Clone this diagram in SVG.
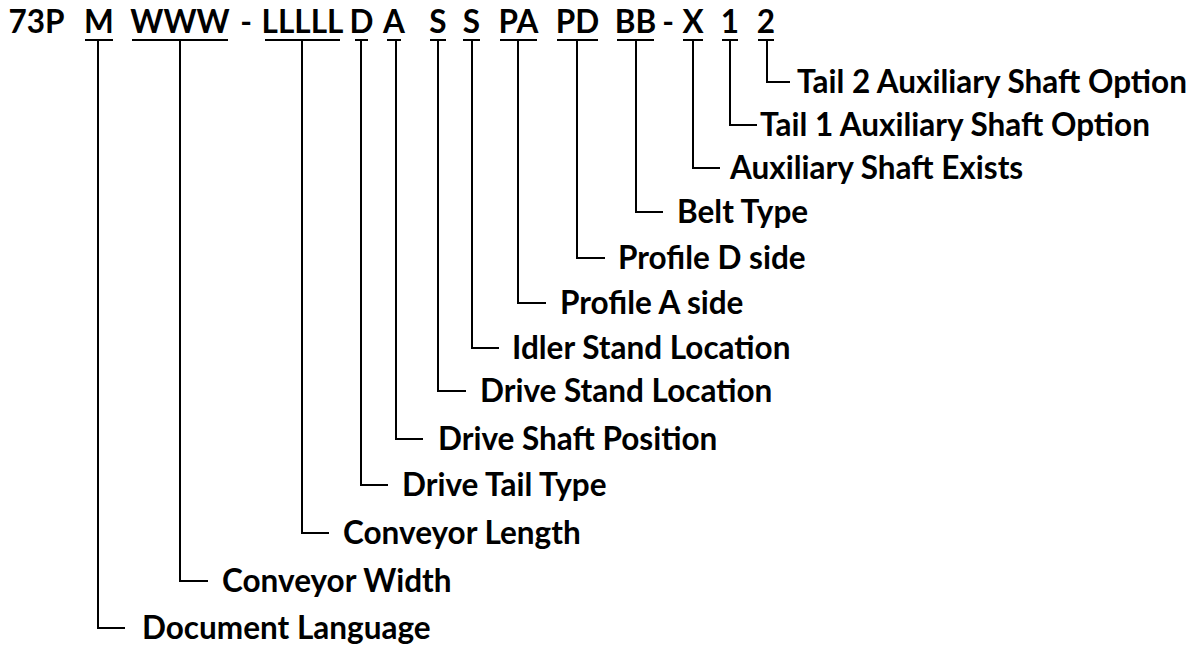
<svg xmlns="http://www.w3.org/2000/svg" width="1198" height="650" viewBox="0 0 1198 650">
<style>
text{font-family:Lato,"Liberation Sans",sans-serif;font-weight:bold;font-size:31.5px;fill:#000}
.c{text-anchor:middle}
.u{stroke:#000;stroke-width:2;fill:none}
.k{stroke:#000;stroke-width:2;fill:none}
</style>
<rect width="1198" height="650" fill="#fff"/>
<g id="code">
<text x="36.5" y="33" class="c">73P</text>
<text x="99" y="33" class="c">M</text>
<text x="180" y="33" class="c">WWW</text>
<text x="246" y="33" class="c">-</text>
<text x="302.5" y="33" class="c">LLLLL</text>
<text x="361.5" y="33" class="c">D</text>
<text x="394" y="33" class="c">A</text>
<text x="438" y="33" class="c">S</text>
<text x="471.5" y="33" class="c">S</text>
<text x="518.5" y="33" class="c">PA</text>
<text x="577.5" y="33" class="c">PD</text>
<text x="635.5" y="33" class="c">BB</text>
<text x="668" y="33" class="c">-</text>
<text x="693" y="33" class="c">X</text>
<text x="730" y="33" class="c">1</text>
<text x="766" y="33" class="c">2</text>
<path class="u" d="M85 40H113M132 40H228M265 40H340M355 40H368M387 40H401M430 40H446M463 40H480M500 40H537M557 40H598M617 40H654M683 40H703M722 40H738M758 40H774"/>
</g>
<g id="connectors">
<path class="k" d="M98 40V628H125"/>
<path class="k" d="M180 40V581H208"/>
<path class="k" d="M302 40V533H329"/>
<path class="k" d="M361 40V485H388"/>
<path class="k" d="M396 40V439H423"/>
<path class="k" d="M438 40V391H466"/>
<path class="k" d="M472 40V348H499"/>
<path class="k" d="M518 40V303H546"/>
<path class="k" d="M577 40V258H605"/>
<path class="k" d="M636 40V212H663"/>
<path class="k" d="M693 40V168H720"/>
<path class="k" d="M730 40V125H757"/>
<path class="k" d="M767 40V82H790"/>
</g>
<g id="n-tail2"><text x="797" y="93">Tail 2 Auxiliary Shaft Option</text></g>
<g id="n-tail1"><text x="760" y="136">Tail 1 Auxiliary Shaft Option</text></g>
<g id="n-auxexists"><text x="730" y="179">Auxiliary Shaft Exists</text></g>
<g id="n-belt"><text x="677" y="223">Belt Type</text></g>
<g id="n-profd"><text x="618" y="269">Profile D side</text></g>
<g id="n-profa"><text x="560" y="314">Profile A side</text></g>
<g id="n-idler"><text x="512" y="359">Idler Stand Location</text></g>
<g id="n-drivestand"><text x="480" y="402">Drive Stand Location</text></g>
<g id="n-driveshaft"><text x="438" y="450">Drive Shaft Position</text></g>
<g id="n-drivetail"><text x="402" y="496">Drive Tail Type</text></g>
<g id="n-length"><text x="343" y="544">Conveyor Length</text></g>
<g id="n-width"><text x="222" y="592">Conveyor Width</text></g>
<g id="n-lang"><text x="142" y="639">Document Language</text></g>
</svg>
